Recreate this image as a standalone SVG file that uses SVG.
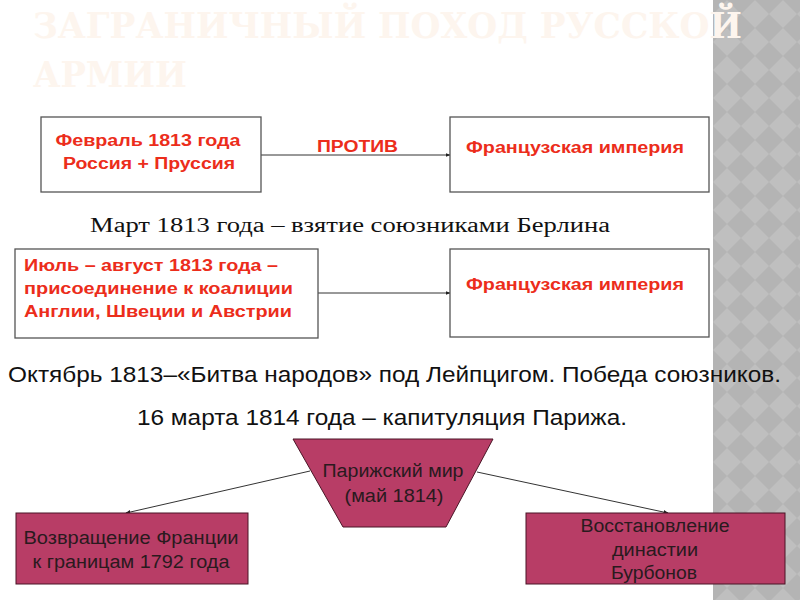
<svg xmlns="http://www.w3.org/2000/svg" width="800" height="600" viewBox="0 0 800 600">
<defs>
<pattern id="argyle" x="713" y="0" width="28" height="28" patternUnits="userSpaceOnUse">
<rect width="28" height="28" fill="#b4b4b4"/>
<polygon points="14,0 28,14 14,28 0,14" fill="#bfbfbf"/>
</pattern>
<marker id="arr" viewBox="0 0 10 10" refX="9" refY="5" markerWidth="5" markerHeight="5" orient="auto">
<path d="M0,1 L10,5 L0,9 z" fill="#222"/>
</marker>
<style>
.box{fill:#fff;stroke:#555;stroke-width:1.3}
.red{font-family:"Liberation Sans",Arial,sans-serif;font-weight:bold;font-size:16px;fill:#ec2d1b}
.pink{fill:#b83d66;stroke:#4a1526;stroke-width:1}
.dark{font-family:"Liberation Sans Narrow","Liberation Sans",Arial,sans-serif;font-size:18px;fill:#2a1a1e}
.blk{font-family:"Liberation Sans Narrow","Liberation Sans",Arial,sans-serif;font-size:22px;fill:#111}
.conn{stroke:#333;stroke-width:1;fill:none;marker-end:url(#arr)}
.title{font-family:"DejaVu Serif","Liberation Serif",serif;font-weight:bold;font-size:36px;fill:#fdf5ee}
</style>
</defs>
<rect width="800" height="600" fill="#fff"/>
<rect x="713" y="0" width="87" height="600" fill="url(#argyle)"/>
<g id="title">
<text class="title" x="33" y="38" textLength="709" lengthAdjust="spacingAndGlyphs">ЗАГРАНИЧНЫЙ ПОХОД РУССКОЙ</text>
<text class="title" x="33" y="87" textLength="154" lengthAdjust="spacingAndGlyphs">АРМИИ</text>
</g>
<g id="connectors">
<line class="conn" x1="261" y1="155" x2="450" y2="155"/>
<line class="conn" x1="318" y1="293" x2="450" y2="293"/>
<line class="conn" x1="310" y1="471" x2="126" y2="513"/>
<line class="conn" x1="477" y1="472" x2="668" y2="513"/>
</g>
<g id="n1">
<rect class="box" x="41" y="117" width="220" height="75"/>
<text class="red" x="148" y="146" text-anchor="middle" textLength="185" lengthAdjust="spacingAndGlyphs">Февраль 1813 года</text>
<text class="red" x="149" y="169" text-anchor="middle" textLength="172" lengthAdjust="spacingAndGlyphs">Россия + Пруссия</text>
</g>
<g id="label-protiv">
<text class="red" x="317" y="152" textLength="81" lengthAdjust="spacingAndGlyphs">ПРОТИВ</text>
</g>
<g id="n2">
<rect class="box" x="450" y="117" width="259" height="75"/>
<text class="red" x="466" y="153" textLength="218" lengthAdjust="spacingAndGlyphs">Французская империя</text>
</g>
<g id="t-march">
<text x="90" y="232" font-family="'Liberation Serif','Times New Roman',serif" font-size="20" fill="#111" textLength="520" lengthAdjust="spacingAndGlyphs">Март 1813 года – взятие союзниками Берлина</text>
</g>
<g id="n3">
<rect class="box" x="15" y="249" width="303" height="89"/>
<text class="red" x="24" y="271" textLength="254" lengthAdjust="spacingAndGlyphs">Июль – август 1813 года –</text>
<text class="red" x="24" y="294" textLength="269" lengthAdjust="spacingAndGlyphs">присоединение к коалиции</text>
<text class="red" x="24" y="317" textLength="268" lengthAdjust="spacingAndGlyphs">Англии, Швеции и Австрии</text>
</g>
<g id="n4">
<rect class="box" x="450" y="249" width="259" height="88"/>
<text class="red" x="466" y="290" textLength="218" lengthAdjust="spacingAndGlyphs">Французская империя</text>
</g>
<g id="t-october">
<text class="blk" x="8" y="382" textLength="773" lengthAdjust="spacingAndGlyphs">Октябрь 1813–«Битва народов» под Лейпцигом. Победа союзников.</text>
<text class="blk" x="137" y="425" textLength="490" lengthAdjust="spacingAndGlyphs">16 марта 1814 года – капитуляция Парижа.</text>
</g>
<g id="n5">
<polygon class="pink" points="293,439 493,439 446,527 343,527"/>
<text class="dark" x="393" y="477" text-anchor="middle" textLength="141" lengthAdjust="spacingAndGlyphs">Парижский мир</text>
<text class="dark" x="394" y="502" text-anchor="middle" textLength="99" lengthAdjust="spacingAndGlyphs">(май 1814)</text>
</g>
<g id="n6">
<rect class="pink" x="16" y="513" width="232" height="71"/>
<text class="dark" x="131" y="544" text-anchor="middle" textLength="215" lengthAdjust="spacingAndGlyphs">Возвращение Франции</text>
<text class="dark" x="131" y="568" text-anchor="middle" textLength="197" lengthAdjust="spacingAndGlyphs">к границам 1792 года</text>
</g>
<g id="n7">
<rect class="pink" x="526" y="513" width="259" height="71"/>
<text class="dark" x="655" y="532" text-anchor="middle" textLength="149" lengthAdjust="spacingAndGlyphs">Восстановление</text>
<text class="dark" x="655" y="556" text-anchor="middle" textLength="86" lengthAdjust="spacingAndGlyphs">династии</text>
<text class="dark" x="654" y="579" text-anchor="middle" textLength="86" lengthAdjust="spacingAndGlyphs">Бурбонов</text>
</g>
</svg>
